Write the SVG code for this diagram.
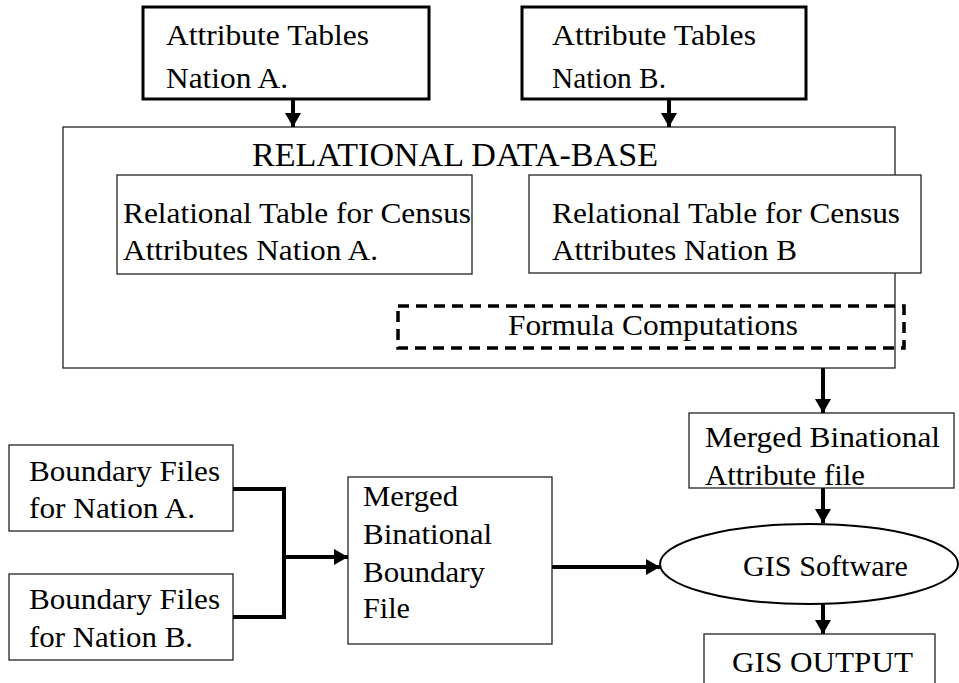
<svg xmlns="http://www.w3.org/2000/svg" width="959" height="683" viewBox="0 0 959 683">
  <style>
    text { font-family: "Liberation Serif", "Times New Roman", serif; font-size: 30px; fill: #000; }
    .title { font-size: 34.5px; }
    .thin { fill: #fff; stroke: #222; stroke-width: 1.3; }
    .thick { fill: #fff; stroke: #000; stroke-width: 3; }
    .dash { fill: none; stroke: #000; stroke-width: 3.5; stroke-dasharray: 11 7; }
    .conn { fill: none; stroke: #000; stroke-width: 4; }
  </style>
  <defs>
    <marker id="arrow" markerUnits="userSpaceOnUse" markerWidth="16" markerHeight="16" refX="14" refY="8" orient="auto">
      <path d="M0,0 L14,8 L0,16 Z" fill="#000"/>
    </marker>
  </defs>

  <rect width="959" height="683" fill="#fff"/>

  <!-- Relational data-base container -->
  <g id="relational-db">
    <rect class="thin" x="63" y="127" width="832" height="241"/>
    <text class="title" x="252" y="166" textLength="406" lengthAdjust="spacingAndGlyphs">RELATIONAL DATA-BASE</text>
  </g>

  <g id="attr-a">
    <rect class="thick" x="143" y="7" width="286" height="92"/>
    <text x="166" y="45" textLength="203" lengthAdjust="spacingAndGlyphs">Attribute Tables</text>
    <text x="166" y="88" textLength="122" lengthAdjust="spacingAndGlyphs">Nation A.</text>
  </g>

  <g id="attr-b">
    <rect class="thick" x="522" y="7" width="284" height="92"/>
    <text x="552" y="45" textLength="204" lengthAdjust="spacingAndGlyphs">Attribute Tables</text>
    <text x="552" y="88" textLength="114" lengthAdjust="spacingAndGlyphs">Nation B.</text>
  </g>

  <g id="table-a">
    <rect class="thin" x="117" y="175" width="355" height="99"/>
    <text x="123" y="223" textLength="348" lengthAdjust="spacingAndGlyphs">Relational Table for Census</text>
    <text x="123" y="260" textLength="255" lengthAdjust="spacingAndGlyphs">Attributes Nation A.</text>
  </g>

  <g id="table-b">
    <rect class="thin" x="529" y="175" width="392" height="98"/>
    <text x="552" y="223" textLength="348" lengthAdjust="spacingAndGlyphs">Relational Table for Census</text>
    <text x="552" y="260" textLength="245" lengthAdjust="spacingAndGlyphs">Attributes Nation B</text>
  </g>

  <g id="formula">
    <rect class="dash" x="398" y="306" width="506" height="42"/>
    <text x="508" y="335" textLength="290" lengthAdjust="spacingAndGlyphs">Formula Computations</text>
  </g>

  <g id="merged-attr">
    <rect class="thin" x="689" y="413" width="265" height="75"/>
    <text x="705" y="447" textLength="235" lengthAdjust="spacingAndGlyphs">Merged Binational</text>
    <text x="705" y="485" textLength="160" lengthAdjust="spacingAndGlyphs">Attribute file</text>
  </g>

  <g id="gis-software">
    <ellipse cx="809" cy="564" rx="149" ry="40" fill="#fff" stroke="#000" stroke-width="2"/>
    <text x="743" y="576" textLength="165" lengthAdjust="spacingAndGlyphs">GIS Software</text>
  </g>

  <g id="gis-output">
    <rect class="thin" x="704" y="634" width="231" height="60"/>
    <text x="732" y="672" textLength="181" lengthAdjust="spacingAndGlyphs">GIS OUTPUT</text>
  </g>

  <g id="boundary-a">
    <rect class="thin" x="9" y="445" width="224" height="86"/>
    <text x="29" y="481" textLength="191" lengthAdjust="spacingAndGlyphs">Boundary Files</text>
    <text x="29" y="518" textLength="166" lengthAdjust="spacingAndGlyphs">for Nation A.</text>
  </g>

  <g id="boundary-b">
    <rect class="thin" x="9" y="574" width="224" height="86"/>
    <text x="29" y="609" textLength="191" lengthAdjust="spacingAndGlyphs">Boundary Files</text>
    <text x="29" y="647" textLength="164" lengthAdjust="spacingAndGlyphs">for Nation B.</text>
  </g>

  <g id="merged-boundary">
    <rect class="thin" x="348" y="477" width="204" height="167"/>
    <text x="363" y="506" textLength="95" lengthAdjust="spacingAndGlyphs">Merged</text>
    <text x="363" y="544" textLength="129" lengthAdjust="spacingAndGlyphs">Binational</text>
    <text x="363" y="582" textLength="122" lengthAdjust="spacingAndGlyphs">Boundary</text>
    <text x="363" y="618" textLength="47" lengthAdjust="spacingAndGlyphs">File</text>
  </g>

  <!-- Connectors -->
  <g id="connectors">
    <line class="conn" x1="293" y1="99" x2="293" y2="127" marker-end="url(#arrow)"/>
    <line class="conn" x1="669" y1="99" x2="669" y2="127" marker-end="url(#arrow)"/>
    <line class="conn" x1="823" y1="368" x2="823" y2="413" marker-end="url(#arrow)"/>
    <line class="conn" x1="823" y1="488" x2="823" y2="523" marker-end="url(#arrow)"/>
    <line class="conn" x1="823" y1="604" x2="823" y2="634" marker-end="url(#arrow)"/>
    <polyline class="conn" points="233,489 284,489 284,617 233,617"/>
    <line class="conn" x1="284" y1="557" x2="348" y2="557" marker-end="url(#arrow)"/>
    <line class="conn" x1="552" y1="567" x2="660" y2="567" marker-end="url(#arrow)"/>
  </g>
</svg>
